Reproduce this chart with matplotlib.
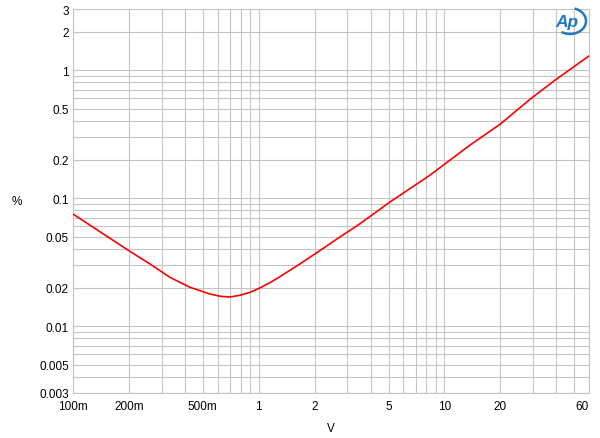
"""THD+N versus output voltage, log-log sweep."""

import matplotlib

matplotlib.use("Agg")
import matplotlib.pyplot as plt
from matplotlib.patches import Arc
from matplotlib.ticker import NullFormatter

plt.rcParams["font.family"] = ["Liberation Sans", "DejaVu Sans"]

volts = [0.1, 0.2, 0.26, 0.333, 0.426, 0.546, 0.62, 0.698, 0.79, 0.895,
         1.01, 1.146, 1.30, 1.66, 2.13, 2.72, 3.49, 5.06, 8.3, 13.6, 20.0,
         29.0, 39.0, 60.0]
thd_pct = [0.075, 0.0388, 0.0305, 0.0240, 0.0201, 0.0178, 0.0171, 0.01685,
           0.0174, 0.0183, 0.0198, 0.0218, 0.0243, 0.0305, 0.0388, 0.0494,
           0.0627, 0.0927, 0.150, 0.257, 0.379, 0.594, 0.826, 1.29]

x_ticks = [0.1, 0.2, 0.5, 1, 2, 5, 10, 20, 60]
x_labels = ["100m", "200m", "500m", "1", "2", "5", "10", "20", "60"]
y_ticks = [0.003, 0.005, 0.01, 0.02, 0.05, 0.1, 0.2, 0.5, 1, 2, 3]
y_labels = ["0.003", "0.005", "0.01", "0.02", "0.05", "0.1", "0.2", "0.5",
            "1", "2", "3"]

x_lim = (0.1, 60)
y_lim = (0.003, 3)
grid_color = "#c4c4c4"
label_size = 8.5


def decade_grid(lo, hi):
    vals = []
    for exp in range(-4, 3):
        for m in range(1, 10):
            v = m * 10.0 ** exp
            if lo * 0.999 <= v <= hi * 1.001:
                vals.append(v)
    return vals


fig = plt.figure(figsize=(6.0, 4.39), dpi=100)
ax = fig.add_axes([73 / 600, 1 - 394 / 439, 516 / 600, 384 / 439])

ax.set_xscale("log")
ax.set_yscale("log")
ax.set_xlim(*x_lim)
ax.set_ylim(*y_lim)

ax.set_xticks(decade_grid(*x_lim), minor=True)
ax.set_yticks(decade_grid(*y_lim), minor=True)
ax.set_xticks(x_ticks)
ax.set_xticklabels(x_labels)
ax.set_yticks(y_ticks)
ax.set_yticklabels(y_labels)
ax.xaxis.set_minor_formatter(NullFormatter())
ax.yaxis.set_minor_formatter(NullFormatter())
ax.tick_params(which="both", length=0, labelsize=label_size, colors="black")
ax.tick_params(axis="x", pad=5)
ax.tick_params(axis="y", pad=3)
ax.xaxis.get_ticklabels()[-1].set_horizontalalignment("right")

ax.grid(True, which="both", color=grid_color, linewidth=0.8)
ax.set_axisbelow(True)
for spine in ax.spines.values():
    spine.set_color(grid_color)
    spine.set_linewidth(0.8)

ax.plot(volts, thd_pct, color="#ff0000", linewidth=1.2, zorder=3)

ax.set_xlabel("V", fontsize=label_size, labelpad=7)
ax.set_ylabel("%", fontsize=label_size, rotation=0, va="center")
ax.yaxis.set_label_coords(-56 / 516, 0.5)

# Audio Precision logo
logo_color = "#1f7ac2"
fig.text(567 / 600, 1 - 22 / 439, "Ap", color=logo_color, fontsize=12.5,
         fontstyle="italic", fontweight="bold", ha="center", va="center")
fig.add_artist(Arc((570 / 600, 1 - 22 / 439), 32 / 600, 26 / 439,
                   theta1=-120, theta2=75, color=logo_color, linewidth=1.8,
                   transform=fig.transFigure))

fig.savefig("out.png", dpi=100)
